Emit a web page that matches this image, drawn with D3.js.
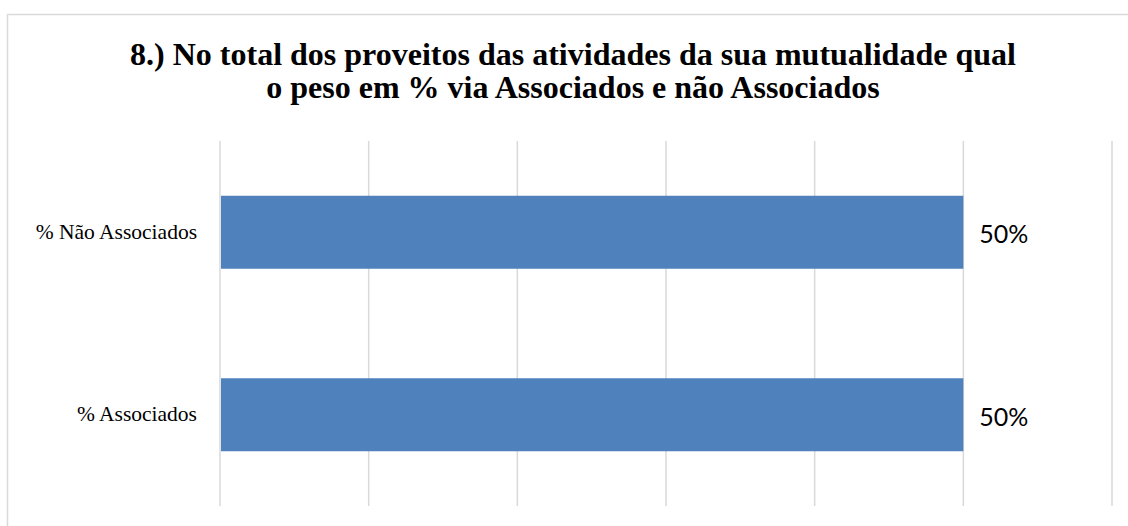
<!DOCTYPE html>
<html>
<head>
<meta charset="utf-8">
<script src="https://cdn.jsdelivr.net/npm/d3@7"></script>
<style>
  body { margin: 0; background: #fff; }
</style>
</head>
<body>
<script>
// Data
var categories = ["% Não Associados", "% Associados"];
var values = [0.5, 0.5];
var gridTicks = [0, 0.1, 0.2, 0.3, 0.4, 0.5, 0.6];
var titleLines = ["8.) No total dos proveitos das atividades da sua mutualidade qual",
                  "o peso em % via Associados e não Associados"];

var width = 1128, height = 526;
var plot = {left: 220, right: 1112, top: 141, bottom: 506};

var svg = d3.select("body").append("svg")
    .attr("width", width)
    .attr("height", height);

// chart border
svg.append("rect")
    .attr("x", 7.5).attr("y", 14.5)
    .attr("width", 1140).attr("height", 540)
    .attr("fill", "#fff")
    .attr("stroke", "#d9d9d9")
    .attr("stroke-width", 1.5);

// Title
svg.append("text")
    .attr("x", 573)
    .attr("y", 65)
    .attr("text-anchor", "middle")
    .style("font-family", "'Liberation Serif', 'Times New Roman', serif")
    .style("font-weight", "bold")
    .style("font-size", "32px")
    .attr("fill", "#000")
    .selectAll("tspan")
    .data(titleLines)
    .enter().append("tspan")
    .attr("x", 573)
    .attr("dy", function(d, i) { return i === 0 ? 0 : 33; })
    .text(function(d) { return d; });

// Scales
var xScale = d3.scaleLinear()
    .domain([0, 0.6])
    .range([plot.left, plot.right]);
var yScale = d3.scaleBand()
    .domain(categories)
    .range([plot.top, plot.bottom])
    .paddingInner(0.6)
    .paddingOuter(0.3);

// Gridlines
svg.append("g")
    .selectAll("line")
    .data(gridTicks)
    .enter().append("line")
    .attr("x1", function(d) { return xScale(d); })
    .attr("x2", function(d) { return xScale(d); })
    .attr("y1", plot.top)
    .attr("y2", plot.bottom)
    .attr("stroke", "#d9d9d9")
    .attr("stroke-width", 1.5);

// Bars
svg.append("g")
    .selectAll("rect")
    .data(values)
    .enter().append("rect")
    .attr("x", xScale(0) + 1)
    .attr("y", function(d, i) { return yScale(categories[i]); })
    .attr("width", function(d) { return xScale(d) - xScale(0) - 1; })
    .attr("height", yScale.bandwidth())
    .attr("fill", "#4f81bd");

// Value labels
svg.append("g")
    .selectAll("text")
    .data(values)
    .enter().append("text")
    .attr("x", function(d) { return xScale(d) + 16; })
    .attr("y", function(d, i) { return yScale(categories[i]) + yScale.bandwidth() / 2 + 11; })
    .style("font-family", "Lato, 'Open Sans', sans-serif")
    .style("font-size", "25px")
    .attr("fill", "#000")
    .text(function(d) { return d3.format(".0%")(d); });

// Category labels
var yAxis = d3.axisLeft(yScale).tickSize(0).tickPadding(23);
var gy = svg.append("g")
    .attr("transform", "translate(" + plot.left + ",0)")
    .call(yAxis);
gy.select(".domain").remove();
gy.selectAll("text")
    .style("font-family", "'Liberation Serif', 'Times New Roman', serif")
    .style("font-size", "21.5px")
    .attr("fill", "#000")
    .attr("dy", "0.3em");
</script>
</body>
</html>
